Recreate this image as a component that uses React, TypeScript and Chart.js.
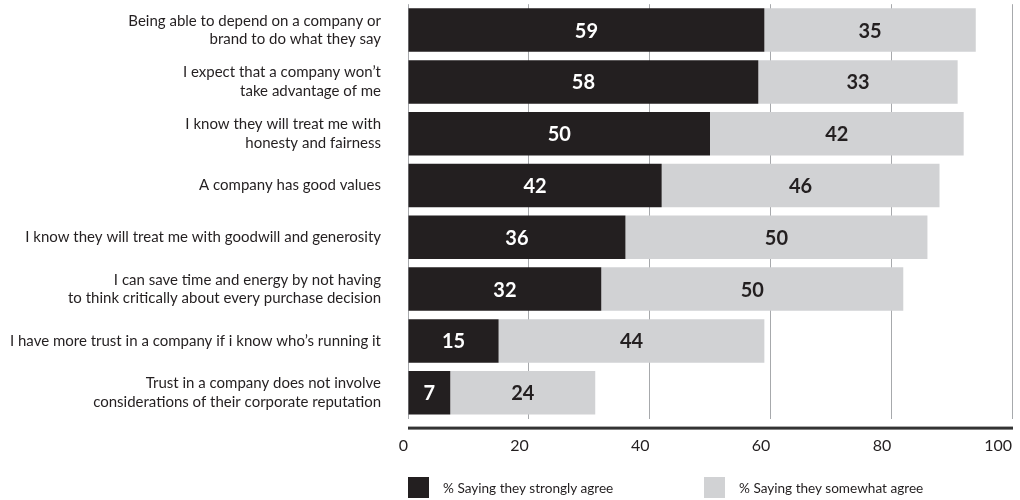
import React, { useEffect, useRef } from "react";
import { Chart, registerables } from "chart.js";

Chart.register(...registerables);

const categories: (string | string[])[] = [
  ["Being able to depend on a company or", "brand to do what they say"],
  ["I expect that a company won’t", "take advantage of me"],
  ["I know they will treat me with", "honesty and fairness"],
  "A company has good values",
  "I know they will treat me with goodwill and generosity",
  ["I can save time and energy by not having", "to think critically about every purchase decision"],
  "I have more trust in a company if i know who’s running it",
  ["Trust in a company does not involve", "considerations of their corporate reputation"],
];

const stronglyAgree = [59, 58, 50, 42, 36, 32, 15, 7];
const somewhatAgree = [35, 33, 42, 46, 50, 50, 44, 24];
const seriesNames = ["% Saying they strongly agree", "% Saying they somewhat agree"];
const seriesColors = ["#231f20", "#d1d2d4"];
const labelColors = ["#ffffff", "#231f20"];
const xTicks = [0, 20, 40, 60, 80, 100];

const FONT = "Lato, 'Noto Sans', sans-serif";

const barLabelPlugin = {
  id: "barLabels",
  afterDatasetsDraw(chart: any) {
    const ctx = chart.ctx;
    ctx.save();
    ctx.font = `bold 20px ${FONT}`;
    ctx.textAlign = "center";
    ctx.textBaseline = "middle";
    chart.data.datasets.forEach((ds: any, i: number) => {
      const meta = chart.getDatasetMeta(i);
      ctx.fillStyle = labelColors[i];
      meta.data.forEach((bar: any, j: number) => {
        const p = bar.getProps(["x", "base", "y"], true);
        ctx.fillText(String(ds.data[j]), (p.x + p.base) / 2, p.y + 1);
      });
    });
    ctx.restore();
  },
};

const axisLinePlugin = {
  id: "axisLine",
  afterDraw(chart: any) {
    const { ctx, chartArea } = chart;
    ctx.save();
    ctx.fillStyle = "#333333";
    ctx.fillRect(chartArea.left, chartArea.bottom + 8, chartArea.right - chartArea.left + 1, 3);
    ctx.restore();
  },
};

const zeroPadding = (scale: any) => {
  scale.paddingTop = 0;
  scale.paddingBottom = 0;
  scale.paddingLeft = 0;
  scale.paddingRight = 0;
};

export default function App() {
  const ref = useRef<HTMLCanvasElement>(null);

  useEffect(() => {
    if (!ref.current) return;
    const chart = new Chart(ref.current, {
      type: "bar",
      data: {
        labels: categories,
        datasets: [
          {
            label: seriesNames[0],
            data: stronglyAgree,
            backgroundColor: seriesColors[0],
            barPercentage: 0.84,
            categoryPercentage: 1,
          },
          {
            label: seriesNames[1],
            data: somewhatAgree,
            backgroundColor: seriesColors[1],
            barPercentage: 0.84,
            categoryPercentage: 1,
          },
        ],
      },
      options: {
        indexAxis: "y",
        responsive: false,
        animation: false,
        layout: { padding: { top: 4.2, right: 8, left: 0, bottom: 0 } },
        plugins: {
          legend: { display: false },
          tooltip: { enabled: false },
        },
        scales: {
          x: {
            stacked: true,
            min: 0,
            max: 100,
            afterBuildTicks: (scale: any) => {
              scale.ticks = xTicks.map((v) => ({ value: v }));
            },
            afterFit: (scale: any) => {
              scale.height = 81.4;
              zeroPadding(scale);
            },
            grid: { color: "#a7a9ac", lineWidth: 1, drawTicks: false },
            border: { display: false },
            ticks: {
              align: "end",
              padding: 18,
              color: "#231f20",
              font: { family: FONT, size: 16 },
            },
          },
          y: {
            stacked: true,
            afterFit: (scale: any) => {
              scale.width = 408;
              zeroPadding(scale);
            },
            grid: { display: false, drawTicks: false },
            border: { display: false },
            ticks: {
              padding: 27,
              color: "#231f20",
              font: { family: FONT, size: 15, lineHeight: 1.24 },
            },
          },
        },
      },
      plugins: [barLabelPlugin, axisLinePlugin],
    });
    return () => chart.destroy();
  }, []);

  return (
    <div style={{ position: "absolute", left: 0, top: 0, width: 1020, height: 500, background: "#fff" }}>
      <canvas ref={ref} width={1020} height={500} style={{ display: "block" }} />
      {seriesNames.map((name, i) => (
        <div
          key={name}
          style={{
            position: "absolute",
            left: i === 0 ? 408 : 704,
            top: 477,
            height: 21,
            display: "flex",
            alignItems: "center",
            fontFamily: FONT,
            fontSize: 13.6,
            color: "#231f20",
            whiteSpace: "nowrap",
          }}
        >
          <span style={{ display: "inline-block", width: 21, height: 21, background: seriesColors[i], marginRight: 14 }} />
          {name}
        </div>
      ))}
    </div>
  );
}
